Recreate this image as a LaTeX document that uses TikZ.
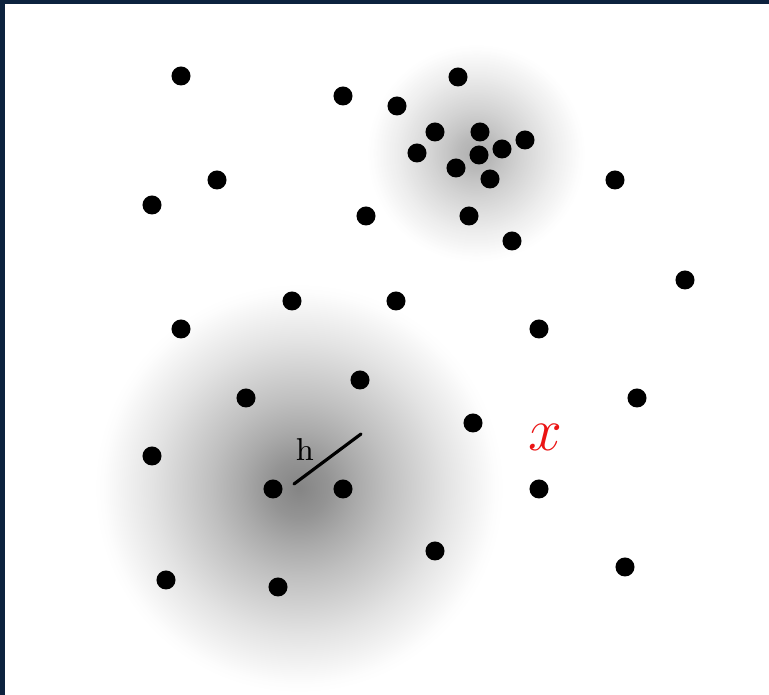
\documentclass[tikz,border=0pt]{standalone}
\usetikzlibrary{calc}
\definecolor{framec}{RGB}{12,34,62}
\definecolor{markc}{RGB}{235,20,20}
% soft kernel blob: dark middle fading out to white
\pgfdeclareradialshading{kernel}{\pgfpoint{0bp}{0bp}}{%
  color(0bp)=(black!48); color(3bp)=(black!42); color(6bp)=(black!33);
  color(9bp)=(black!25); color(12bp)=(black!18); color(15bp)=(black!11);
  color(18bp)=(black!5); color(20bp)=(black!1); color(21bp)=(white);
  color(25bp)=(white); color(50bp)=(white)}
\tikzset{
  pt/.style={circle, fill=black, draw=none, minimum size=0.19cm, inner sep=0pt},
  blob/.style={shading=kernel, draw=none},
  bw/.style={line width=0.9pt, line cap=round},
  lab/.style={font=\fontsize{9}{11}\selectfont, inner sep=1pt},
  query/.style={font=\fontsize{17}{20}\selectfont, text=markc, inner sep=0pt},
}
\begin{document}
\begin{tikzpicture}[x=0.01cm, y=-0.01cm]
  \useasboundingbox (0,0) rectangle (769,695);
  \fill[white] (0,0) rectangle (769,695);

  % the two kernels
  \shade[blob] (299,488) circle[radius=2.44cm];
  \shade[blob, opacity=0.65] (476,153) circle[radius=1.30cm];

  % frame edges
  \fill[framec] (0,0) rectangle (769,4);
  \fill[framec] (0,0) rectangle (5,695);

  % sample points
  \foreach \px/\py [count=\i] in {
      181/76, 343/96, 458/77, 397/106, 435/132, 480/132, 525/140, 417/153,
      479/155, 502/149, 456/168, 490/179, 469/216, 512/241, 217/180, 152/205,
      366/216, 615/180, 685/280, 292/301, 396/301, 181/329, 539/329, 360/380,
      246/398, 637/398, 473/423, 152/456, 273/489, 343/489, 539/489, 435/551,
      166/580, 278/587, 625/567}
    \node[pt] (p\i) at (\px,\py) {};

  % bandwidth marker
  \coordinate (h0) at (294,484);
  \coordinate (h1) at (361,434);
  \draw[bw] (h0) -- (h1);
  \node[lab] (hl) at (305,450) {h};

  % query point
  \node[query] (xq) at (545,437) {$x$};
\end{tikzpicture}
\end{document}
